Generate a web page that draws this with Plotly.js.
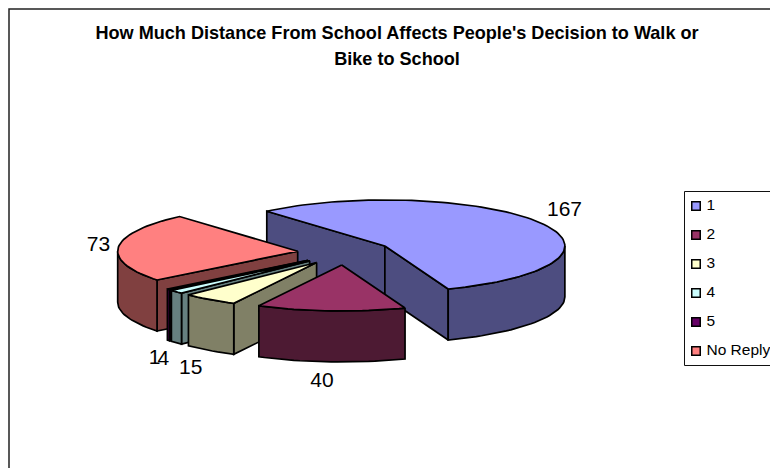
<!DOCTYPE html>
<html>
<head>
<meta charset="utf-8">
<script src="https://cdn.plot.ly/plotly-3.0.1.min.js"></script>
<style>html,body{margin:0;padding:0;background:#fff}#chart{width:770px;height:468px}</style>
</head>
<body>
<div id="chart"></div>
<script>
// Survey replies, clockwise from the first slice
const categories = ['1', '2', '3', '4', '5', 'No Reply'];
const replies = [167, 40, 15, 4, 1, 73];
const topColors = ['#9999FF', '#993366', '#FFFFCC', '#CCFFFF', '#660066', '#FF8080'];
const wallColors = ['#4D4D80', '#4D1A33', '#808066', '#668080', '#330033', '#804040'];
const titleLines = ["How Much Distance From School Affects People's Decision to Walk or", 'Bike to School'];

// Oblique pie geometry, in the pixel space of the hidden axes
const pie = {cx: 344.5, cy: 252.4, rx: 180, ry: 46, depth: 51, pullX: 47, pullY: 12.6, firstAngle: -41};
const FONT = '"Liberation Sans", Arial, sans-serif';
// Data label nudges from the slice's outer edge: x, y
const labelNudge = [[25, -12], [-9, 20], [-19, 18], [-13, 17], [-14, 18], [-20, -1]];
const drawOrder = [0, 5, 4, 3, 2, 1];

const rad = d => d * Math.PI / 180;
const total = replies.reduce((a, b) => a + b, 0);
let running = pie.firstAngle;
const slices = replies.map((v, i) => {
  const start = running, end = running + v / total * 360;
  running = end;
  const mid = (start + end) / 2;
  return {i, start, end, mid,
    ax: pie.cx + pie.pullX * Math.sin(rad(mid)),
    ay: pie.cy - pie.pullY * Math.cos(rad(mid))};
});
const rimPoint = (s, a, drop) => [s.ax + pie.rx * Math.sin(rad(a)), s.ay - pie.ry * Math.cos(rad(a)) + (drop || 0)];
function arc(s, from, to, drop) {
  const n = Math.max(2, Math.ceil(Math.abs(to - from) / 2));
  const pts = [];
  for (let k = 0; k <= n; k++) pts.push(rimPoint(s, from + (to - from) * k / n, drop));
  return pts;
}
function face(pts, color, name) {
  return {type: 'scatter', mode: 'lines', x: pts.map(p => p[0]), y: pts.map(p => p[1]),
    fill: 'toself', fillcolor: color, line: {color: '#000', width: 1.7}, name,
    showlegend: false, hoverinfo: 'skip'};
}

const traces = [];
drawOrder.forEach(idx => {
  const s = slices[idx], name = categories[idx], wall = wallColors[idx];
  const apex = [s.ax, s.ay], apexLow = [s.ax, s.ay + pie.depth];
  // Radial walls turned towards the viewer
  if (Math.sin(rad(s.start)) < 0) {
    const p = rimPoint(s, s.start), q = rimPoint(s, s.start, pie.depth);
    traces.push(face([apex, p, q, apexLow, apex], wall, name));
  }
  if (Math.sin(rad(s.end)) > 0) {
    const p = rimPoint(s, s.end), q = rimPoint(s, s.end, pie.depth);
    traces.push(face([apex, p, q, apexLow, apex], wall, name));
  }
  // Outer rim, front half only
  const from = Math.max(s.start, 90), to = Math.min(s.end, 270);
  if (to > from) {
    traces.push(face(arc(s, from, to).concat(arc(s, to, from, pie.depth)).concat([rimPoint(s, from)]), wall, name));
  }
  // Top of the slice
  traces.push(face([apex].concat(arc(s, s.start, s.end)).concat([apex]), topColors[idx], name));
});

// Value labels next to each slice
const labelPts = slices.map((s, i) => {
  const front = Math.cos(rad(s.mid)) < 0 && Math.abs(Math.sin(rad(s.mid))) < 0.9;
  const p = rimPoint(s, s.mid, front ? pie.depth : 0);
  return [p[0] + labelNudge[i][0], p[1] + labelNudge[i][1]];
});
traces.push({type: 'scatter', mode: 'text', x: labelPts.map(p => p[0]), y: labelPts.map(p => p[1]),
  text: replies.map(String), textposition: 'middle center',
  textfont: {family: FONT, size: 21, color: '#000'}, showlegend: false, hoverinfo: 'skip', cliponaxis: false});

// Key at the right edge
const keyX = 696, keyTextX = 706.5, keyTop = 206, keyStep = 29;
const keyRows = categories.map((c, i) => keyTop + i * keyStep);
traces.push({type: 'scatter', mode: 'markers', x: categories.map(() => keyX), y: keyRows,
  marker: {symbol: 'square', size: 8.5, color: topColors, line: {color: '#000', width: 1.5}},
  showlegend: false, hoverinfo: 'skip', cliponaxis: false});
traces.push({type: 'scatter', mode: 'text', x: categories.map(() => keyTextX), y: keyRows,
  text: categories, textposition: 'middle right',
  textfont: {family: FONT, size: 15.5, color: '#000'},
  showlegend: false, hoverinfo: 'skip', cliponaxis: false});

// The outer font size sets the line pitch, the span sets the glyph size
const titleText = titleLines.map(t => '<span style="font-size:18.1px">' + t + '</span>').join('<br>');

const layout = {
  width: 770, height: 468, margin: {l: 0, r: 0, t: 0, b: 0}, showlegend: false,
  paper_bgcolor: '#fff', plot_bgcolor: '#fff',
  title: {text: titleText, x: 397 / 770, xanchor: 'center', xref: 'paper', y: 1 - 39 / 468, yref: 'container', yanchor: 'top',
    font: {family: FONT, size: 20, weight: 700, color: '#000'}},
  xaxis: {range: [0, 770], visible: false, fixedrange: true},
  yaxis: {range: [468, 0], visible: false, fixedrange: true},
  shapes: [
    {type: 'rect', xref: 'x', yref: 'y', x0: 9, y0: 9, x1: 790, y1: 490, line: {color: '#222', width: 1.5}, layer: 'below'},
    {type: 'rect', xref: 'x', yref: 'y', x0: 684.5, y0: 191.5, x1: 790, y1: 365.5, line: {color: '#111', width: 1}, fillcolor: '#fff', layer: 'below'}
  ]
};
Plotly.newPlot('chart', traces, layout, {displayModeBar: false, staticPlot: true});
</script>
</body>
</html>
